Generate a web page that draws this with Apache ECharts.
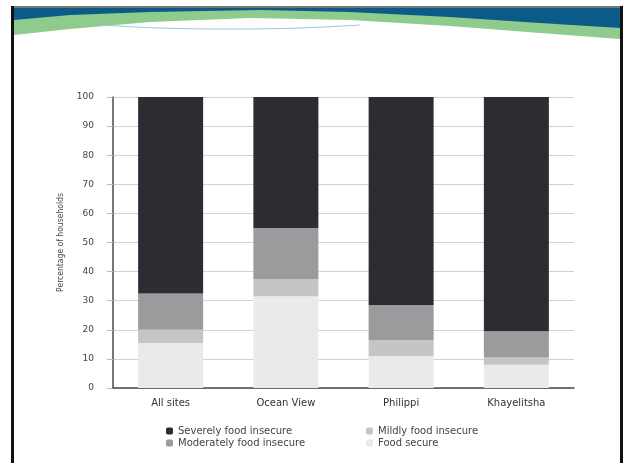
<!DOCTYPE html>
<html>
<head>
<meta charset="utf-8">
<script src="https://cdn.jsdelivr.net/npm/echarts@6/dist/echarts.min.js"></script>
<style>
  html, body { margin: 0; padding: 0; background: #fff; }
  #chart { width: 623px; height: 463px; }
</style>
</head>
<body>
<div id="chart"></div>
<script>
// sites along the x axis
const sites = ['All sites', 'Ocean View', 'Philippi', 'Khayelitsha'];

// percentage of households, bottom segment first
const foodSecure = [15.5, 31.5, 11, 8];
const mildly = [4.5, 6, 5.5, 2.5];
const moderately = [12.5, 17.5, 12, 9];
const severely = [67.5, 45, 71.5, 80.5];

const yTicks = [0, 10, 20, 30, 40, 50, 60, 70, 80, 90, 100];

const font = '"DejaVu Sans", sans-serif';

const chart = echarts.init(document.getElementById('chart'));

function bar(name, data, color) {
    return {
        name: name,
        type: 'bar',
        stack: 'total',
        barWidth: 65,
        data: data,
        itemStyle: { color: color },
        emphasis: { disabled: true }
    };
}

chart.setOption({
    backgroundColor: '#fff',
    animation: false,
    textStyle: { fontFamily: font },
    grid: { left: 113, right: 49, top: 97, bottom: 75 },
    xAxis: {
        type: 'category',
        data: sites,
        axisLine: { lineStyle: { color: '#4a4a4a', width: 1.5 } },
        axisTick: { show: false },
        axisLabel: { color: '#333', fontSize: 10, margin: 10 }
    },
    yAxis: {
        type: 'value',
        min: yTicks[0],
        max: yTicks[yTicks.length - 1],
        interval: 10,
        name: 'Percentage of households',
        nameLocation: 'middle',
        nameGap: 48,
        nameTextStyle: { color: '#444', fontSize: 8.5, fontFamily: '"DejaVu Sans Condensed", sans-serif' },
        axisLine: { show: true, lineStyle: { color: '#4a4a4a', width: 1.5 } },
        axisTick: { show: true, length: 6, lineStyle: { color: '#bbb' } },
        axisLabel: { color: '#444', fontSize: 9, margin: 19 },
        splitLine: { lineStyle: { color: '#d2d2d2', width: 1 } }
    },
    legend: [
        {
            orient: 'vertical',
            left: 161,
            top: 421,
            itemWidth: 7,
            itemHeight: 7,
            itemGap: 2,
            textStyle: { color: '#444', fontSize: 10 },
            data: ['Severely food insecure', 'Moderately food insecure']
        },
        {
            orient: 'vertical',
            left: 361,
            top: 421,
            itemWidth: 7,
            itemHeight: 7,
            itemGap: 2,
            textStyle: { color: '#444', fontSize: 10 },
            data: ['Mildly food insecure', 'Food secure']
        }
    ],
    graphic: [
        // slide frame
        { type: 'rect', shape: { x: 11, y: 6, width: 612, height: 2 }, style: { fill: '#777' } },
        { type: 'rect', shape: { x: 11, y: 6, width: 3, height: 457 }, style: { fill: '#111' } },
        { type: 'rect', shape: { x: 620, y: 6, width: 3, height: 457 }, style: { fill: '#111' } },
        // header waves
        {
            type: 'polygon',
            shape: { points: [[14, 8], [620, 8], [620, 39], [540, 33], [450, 26], [350, 20], [250, 18], [150, 22], [70, 29], [14, 35]] },
            style: { fill: '#8ecb8c' }
        },
        {
            type: 'polygon',
            shape: { points: [[14, 8], [620, 8], [620, 28], [540, 23], [450, 17], [350, 12], [260, 10], [150, 12], [70, 15], [14, 20]] },
            style: { fill: '#0b5b88' }
        },
        {
            type: 'polyline',
            shape: { points: [[100, 25], [160, 28], [230, 29], [300, 28], [360, 25]], smooth: 0.4 },
            style: { stroke: '#9fc6da', lineWidth: 1, fill: null }
        }
    ],
    series: [
        bar('Food secure', foodSecure, '#e9eaea'),
        bar('Mildly food insecure', mildly, '#c4c5c6'),
        bar('Moderately food insecure', moderately, '#9a9b9d'),
        bar('Severely food insecure', severely, '#2b2d33')
    ]
});
</script>
</body>
</html>
